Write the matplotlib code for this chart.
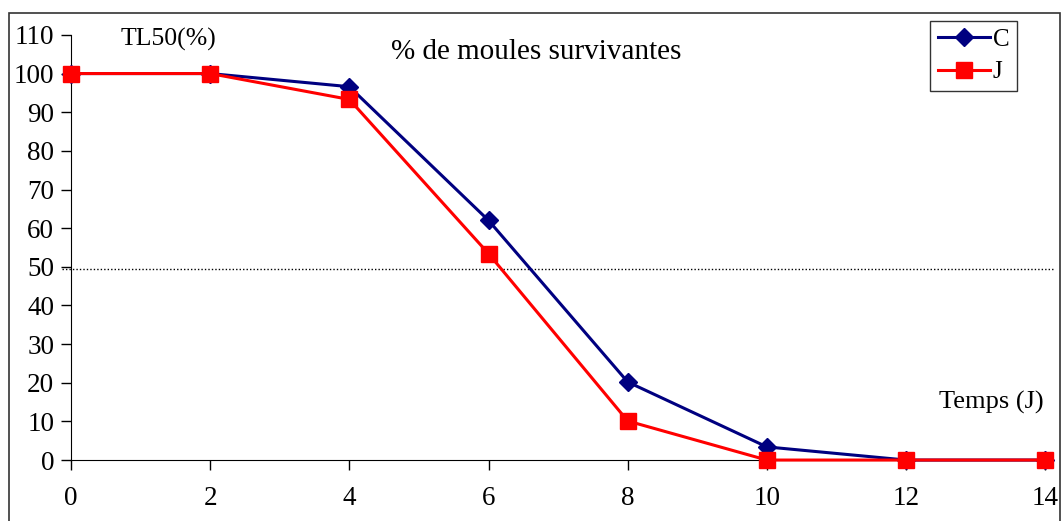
import matplotlib.pyplot as plt
from matplotlib.patches import Rectangle

# survival data (% of mussels alive) per day
days = [0, 2, 4, 6, 8, 10, 12, 14]
serie_c = [100, 100, 96.6, 62, 20.2, 3.4, 0, 0]
serie_j = [100, 100, 93.3, 53.4, 10.1, 0, 0, 0]
tl50 = 49.5

plt.rcParams['font.family'] = ['Liberation Serif', 'DejaVu Serif']

fig = plt.figure(figsize=(10.63, 5.21), dpi=100)
ax = fig.add_axes([0.0668, 0.117, 0.9165, 0.816])

ax.plot(days, serie_c, color='#000080', lw=2.2, marker='D', markersize=9,
        label='C', clip_on=False, zorder=3)
ax.plot(days, serie_j, color='#FF0000', lw=2.2, marker='s', markersize=11,
        label='J', clip_on=False, zorder=4)

ax.axhline(tl50, color='black', lw=1, ls=(0, (1, 1.5)), xmin=-0.009,
           xmax=1.0095, zorder=2, clip_on=False)

ax.set_xlim(0, 14)
ax.set_ylim(0, 110)
ax.set_xticks(range(0, 15, 2))
ax.set_yticks(range(0, 111, 10))
ax.tick_params(labelsize=19.5, length=7, width=1, colors='black')
ax.tick_params(axis='x', pad=12)
ax.tick_params(axis='y', pad=5)

for s in ['top', 'right']:
    ax.spines[s].set_visible(False)

ax.text(0.051, 0.99, 'TL50(%)', transform=ax.transAxes, fontsize=18.5,
        ha='left', va='center')
ax.text(0.4775, 0.96, '% de moules survivantes', transform=ax.transAxes,
        fontsize=21, ha='center', va='center')
ax.text(0.998, 0.135, 'Temps (J)', transform=ax.transAxes, fontsize=19,
        ha='right', va='center')

leg = ax.legend(loc='upper left', bbox_to_anchor=(0.882, 1.033), fontsize=18,
                frameon=True, fancybox=False, edgecolor='black',
                handlelength=2.1, handletextpad=0.1, borderpad=0.3,
                labelspacing=0.4, borderaxespad=0)
leg.get_frame().set_linewidth(1)

# outer chart frame
fig.patches.append(Rectangle((9 / 1063, -0.05), 1051 / 1063, 1.05 - 13 / 521,
                             transform=fig.transFigure, fill=False,
                             edgecolor='#333333', lw=1.2))

fig.savefig('out.png', dpi=100)
